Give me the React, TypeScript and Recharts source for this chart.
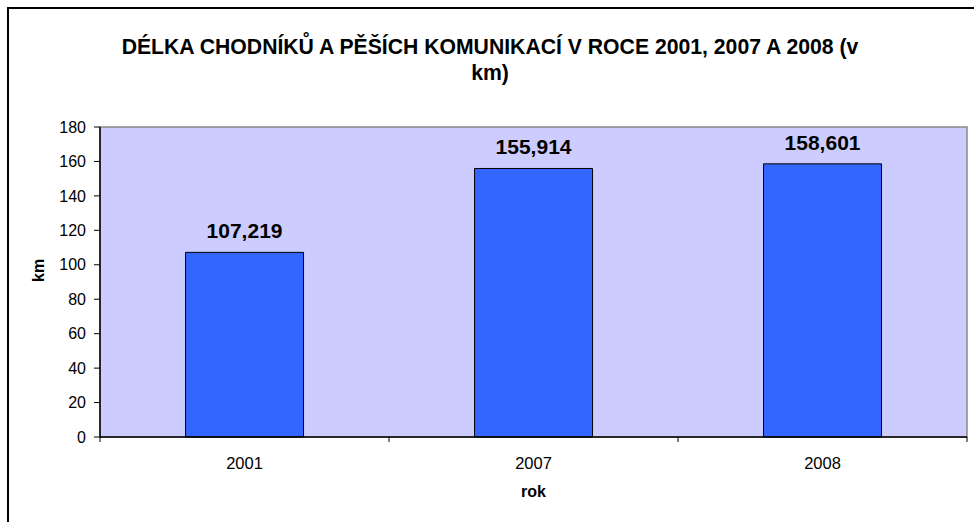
import React from "react";
import { BarChart, Bar, XAxis, YAxis, CartesianGrid, LabelList, ReferenceArea, Label } from "recharts";

const years = ["2001", "2007", "2008"];
const lengths = [107.219, 155.914, 158.601];
const yTicks = [0, 20, 40, 60, 80, 100, 120, 140, 160, 180];
const titleLine1 = "DÉLKA CHODNÍKŮ A PĚŠÍCH KOMUNIKACÍ V ROCE 2001, 2007 A 2008 (v";
const titleLine2 = "km)";

const data = years.map((y, i) => ({ year: y, km: lengths[i] }));
const FONT = "'Liberation Sans', Arial, sans-serif";

const fmt = (v: any) => Number(v).toFixed(3).replace(".", ",");

const XTick = (props: any) => {
  const { x, y, payload, index, visibleTicksCount } = props;
  const off = payload.offset || 0;
  const axisY = y - 8;
  return (
    <g>
      <line x1={x - off} x2={x - off} y1={axisY} y2={axisY + 5} stroke="#000" />
      {index === visibleTicksCount - 1 && (
        <line x1={x + off} x2={x + off} y1={axisY} y2={axisY + 5} stroke="#000" />
      )}
      <text x={x} y={axisY + 32} textAnchor="middle" fontSize={16.5} fontFamily={FONT} fill="#000">
        {payload.value}
      </text>
    </g>
  );
};

export default function App() {
  return (
    <div style={{ position: "absolute", left: 0, top: 0, width: 974, height: 522, background: "#fff", overflow: "hidden" }}>
      <div
        style={{
          position: "absolute",
          left: 7,
          top: 7,
          width: 990,
          height: 540,
          border: "2px solid #000",
          boxSizing: "border-box",
        }}
      />
      <div
        style={{
          position: "absolute",
          left: 0,
          top: 34,
          width: 980,
          textAlign: "center",
          fontFamily: FONT,
          fontWeight: "bold",
          fontSize: 21.2,
          lineHeight: "26px",
          color: "#000",
        }}
      >
        <div>{titleLine1}</div>
        <div>{titleLine2}</div>
      </div>
      <div style={{ position: "absolute", left: 0, top: 0 }}>
        <BarChart
          width={974}
          height={522}
          data={data}
          margin={{ top: 127, right: 7, bottom: 40, left: 40 }}
          barCategoryGap="29.6%"
        >
          <CartesianGrid fill="#CCCCFF" horizontal={false} vertical={false} />
          <XAxis
            dataKey="year"
            height={45}
            tickLine={false}
            axisLine={{ stroke: "#000", strokeWidth: 1.5 }}
            tick={<XTick />}
            interval={0}
          >
            <Label value="rok" position="insideBottom" offset={-15} fontSize={16} fontWeight="bold" fontFamily={FONT} fill="#000" />
          </XAxis>
          <YAxis
            width={60}
            domain={[0, 180]}
            ticks={yTicks}
            interval={0}
            tickSize={6}
            tickMargin={8}
            axisLine={{ stroke: "#000", strokeWidth: 1.5 }}
            tickLine={{ stroke: "#000" }}
            tick={{ fontSize: 16, fontFamily: FONT, fill: "#000" }}
          >
            <Label value="km" angle={-90} position="insideLeft" offset={-2} fontSize={16} fontWeight="bold" fontFamily={FONT} fill="#000" />
          </YAxis>
          <ReferenceArea x1="2001" x2="2008" y1={0} y2={180} fill="none" stroke="#888" strokeWidth={1.5} ifOverflow="visible" />
          <Bar dataKey="km" fill="#3366FF" stroke="#000" strokeWidth={1} isAnimationActive={false}>
            <LabelList dataKey="km" position="top" offset={14} formatter={fmt} fontSize={21} fontWeight="bold" fontFamily={FONT} fill="#000" />
          </Bar>
        </BarChart>
      </div>
    </div>
  );
}
